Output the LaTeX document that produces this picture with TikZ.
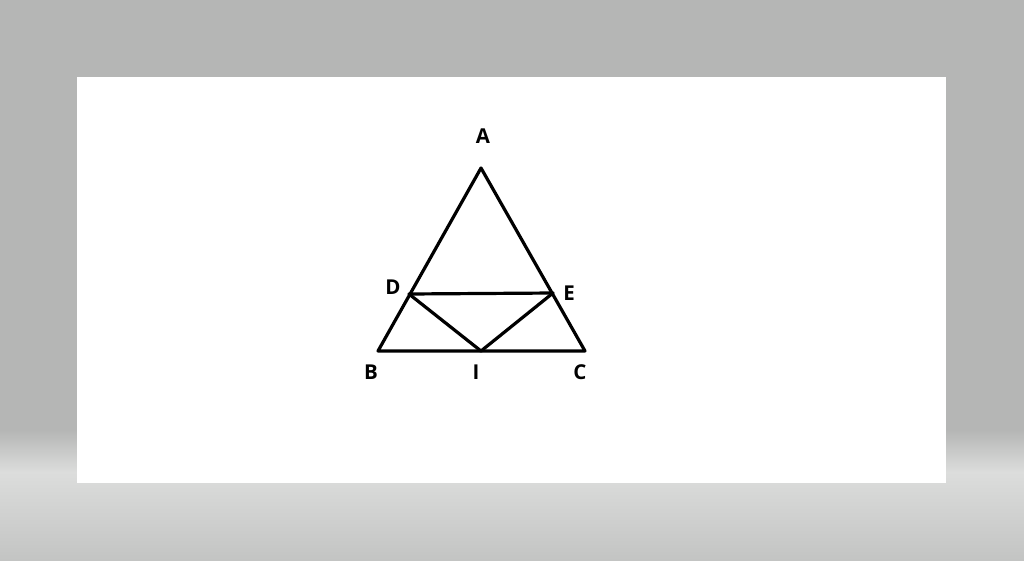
\documentclass[tikz,border=0pt]{standalone}
\usepackage{fontspec}
\setmainfont{Open Sans}
\definecolor{bgtop}{HTML}{B5B6B5}
\definecolor{bgband}{HTML}{DCDDDC}
\definecolor{bgbot}{HTML}{C3C4C3}
\begin{document}
\begin{tikzpicture}[x=1pt,y=-1pt,
  edge/.style={line width=3.2pt,line join=round,line cap=round},
  lbl/.style={font=\fontsize{20.5}{20.5}\selectfont\bfseries,inner sep=0pt}]
\useasboundingbox (0,0) rectangle (1024,560);
\fill[bgtop] (0,0) rectangle (1024,430);
\shade[top color=bgtop,bottom color=bgband] (0,430) rectangle (1024,472);
\shade[top color=bgband,bottom color=bgbot] (0,472) rectangle (1024,560);
\fill[white] (77,77) rectangle (946,483);
\coordinate (A) at (481,168);
\coordinate (B) at (378,351);
\coordinate (C) at (585,351);
\coordinate (D) at (409,294);
\coordinate (E) at (553,293);
\coordinate (I) at (481,351);
\draw[edge] (A) -- (B) -- (C) -- cycle;
\draw[edge] (D) -- (E);
\draw[edge] (D) -- (I) -- (E);
\node[lbl] (la) at (483,136) {A};
\node[lbl] (lb) at (371,372) {B};
\node[lbl] (lc) at (580,372) {C};
\node[lbl] (ld) at (393,287) {D};
\node[lbl] (le) at (569,293) {E};
\node[lbl] (li) at (476,372) {I};
\end{tikzpicture}
\end{document}
